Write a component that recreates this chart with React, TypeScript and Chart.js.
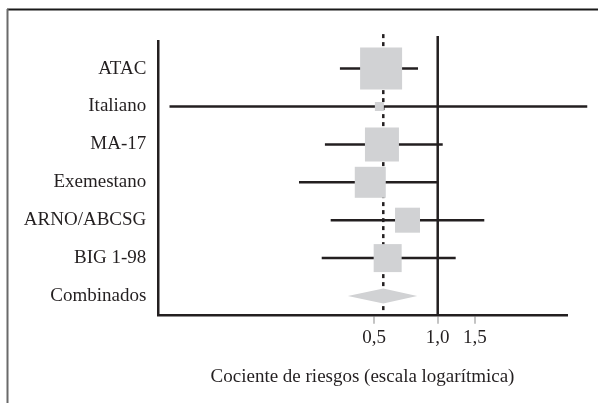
import React, { useEffect, useRef } from 'react';
import { Chart, registerables } from 'chart.js';

Chart.register(...registerables);

// ---- data ----
const studies = ['ATAC', 'Italiano', 'MA-17', 'Exemestano', 'ARNO/ABCSG', 'BIG 1-98'];
const hazardRatio = [0.54, 0.53, 0.545, 0.48, 0.72, 0.58];
const ciLower = [0.345, 0.054, 0.293, 0.221, 0.312, 0.283];
const ciUpper = [0.807, 5.09, 1.056, 1.0, 1.66, 1.216];
const studyWeight = [42, 9, 34, 31, 25, 28]; // relative weight shown as box side
const pooledLabel = 'Combinados';
const pooledHR = 0.553;
const pooledLower = 0.376;
const pooledUpper = 0.8;
const noEffect = 1.0;
const xTickValues = [0.5, 1.0, 1.5];
const axisTitle = 'Cociente de riesgos (escala logarítmica)';

const rowLabels = [...studies, pooledLabel];

const DARK = '#231f20';
const BOX = '#d1d2d4';
const FONT = { family: '"Liberation Serif", "Times New Roman", serif', size: 19 };

const framePlugin = {
  id: 'frame',
  beforeDraw(chart: any) {
    const ctx = chart.ctx;
    ctx.save();
    ctx.lineWidth = 2;
    ctx.strokeStyle = '#1a1a1a';
    ctx.beginPath();
    ctx.moveTo(7, 9.5);
    ctx.lineTo(chart.width, 9.5);
    ctx.stroke();
    ctx.strokeStyle = '#6a6a6a';
    ctx.beginPath();
    ctx.moveTo(7.5, 9);
    ctx.lineTo(7.5, chart.height);
    ctx.stroke();
    ctx.restore();
  },
};

export default function App() {
  const ref = useRef<HTMLCanvasElement | null>(null);

  useEffect(() => {
    document.body.style.margin = '0';
    const canvas = ref.current;
    if (!canvas) return;

    const yTop = -0.71;
    const yBottom = 6.52;
    const pooledRow = studies.length;
    const diamondHalf = 0.2;

    const ciSets = studies.map((_, i) => ({
      type: 'line' as const,
      data: [
        { x: ciLower[i], y: i },
        { x: ciUpper[i], y: i },
      ],
      borderColor: DARK,
      borderWidth: 2.5,
      pointRadius: 0,
      clip: false as any,
      order: 3,
    }));

    const chart = new Chart(canvas, {
      type: 'scatter',
      data: {
        datasets: [
          {
            type: 'line',
            data: [
              { x: noEffect, y: -0.86 },
              { x: noEffect, y: yBottom },
            ],
            borderColor: DARK,
            borderWidth: 2.5,
            pointRadius: 0,
            clip: false as any,
            order: 5,
          },
          {
            type: 'line',
            data: [
              { x: pooledHR, y: -0.91 },
              { x: pooledHR, y: yBottom },
            ],
            borderColor: DARK,
            borderWidth: 2.5,
            borderDash: [4, 4],
            pointRadius: 0,
            clip: false as any,
            order: 4,
          },
          ...ciSets,
          {
            type: 'line',
            data: [
              { x: pooledLower, y: pooledRow },
              { x: pooledHR, y: pooledRow - diamondHalf },
              { x: pooledUpper, y: pooledRow },
              { x: pooledHR, y: pooledRow + diamondHalf },
              { x: pooledLower, y: pooledRow },
            ],
            borderWidth: 0,
            borderColor: BOX,
            backgroundColor: BOX,
            fill: 'shape',
            tension: 0,
            pointRadius: 0,
            clip: false as any,
            order: 1,
          },
          {
            type: 'scatter',
            data: studies.map((_, i) => ({ x: hazardRatio[i], y: i })),
            pointStyle: 'rect',
            pointRadius: studyWeight.map((w) => w / Math.SQRT2),
            backgroundColor: BOX,
            borderWidth: 0,
            clip: false as any,
            order: 0,
          },
        ] as any,
      },
      options: {
        animation: false,
        responsive: false,
        maintainAspectRatio: false,
        layout: { padding: { left: 0, top: 41.7, right: 31.3, bottom: 0 } },
        plugins: {
          legend: { display: false },
          tooltip: { enabled: false },
        },
        scales: {
          x: {
            type: 'logarithmic',
            position: 'bottom',
            min: 0.0478,
            max: 4.07,
            afterFit: (s: any) => {
              s.height = 87.3;
            },
            afterBuildTicks: (s: any) => {
              s.ticks = xTickValues.map((v) => ({ value: v }));
            },
            ticks: {
              autoSkip: false,
              maxRotation: 0,
              minRotation: 0,
              padding: 3,
              font: FONT,
              color: DARK,
              callback: (v: any) => Number(v).toFixed(1).replace('.', ','),
            },
            grid: {
              display: true,
              drawOnChartArea: false,
              drawTicks: true,
              tickLength: 8,
              tickWidth: 2,
              color: '#c4c4c4',
              lineWidth: 2,
            },
            border: { display: true, color: DARK, width: 2.5 },
            title: {
              display: true,
              text: axisTitle,
              font: FONT,
              color: DARK,
              padding: { top: 0, bottom: 14.5 },
            },
          },
          y: {
            type: 'linear',
            reverse: true,
            min: yTop,
            max: yBottom,
            afterFit: (s: any) => {
              s.width = 158.3;
            },
            afterBuildTicks: (s: any) => {
              s.ticks = rowLabels.map((_, i) => ({ value: i }));
            },
            ticks: {
              autoSkip: false,
              padding: 12,
              font: FONT,
              color: DARK,
              callback: (v: any) => rowLabels[Math.round(Number(v))] ?? '',
            },
            grid: { display: false, drawTicks: false },
            border: { display: true, color: DARK, width: 2.5 },
          },
        },
      } as any,
      plugins: [framePlugin],
    });

    return () => chart.destroy();
  }, []);

  return (
    <div style={{ width: 598, height: 403, background: '#fff' }}>
      <canvas ref={ref} width={598} height={403} style={{ display: 'block' }} />
    </div>
  );
}
